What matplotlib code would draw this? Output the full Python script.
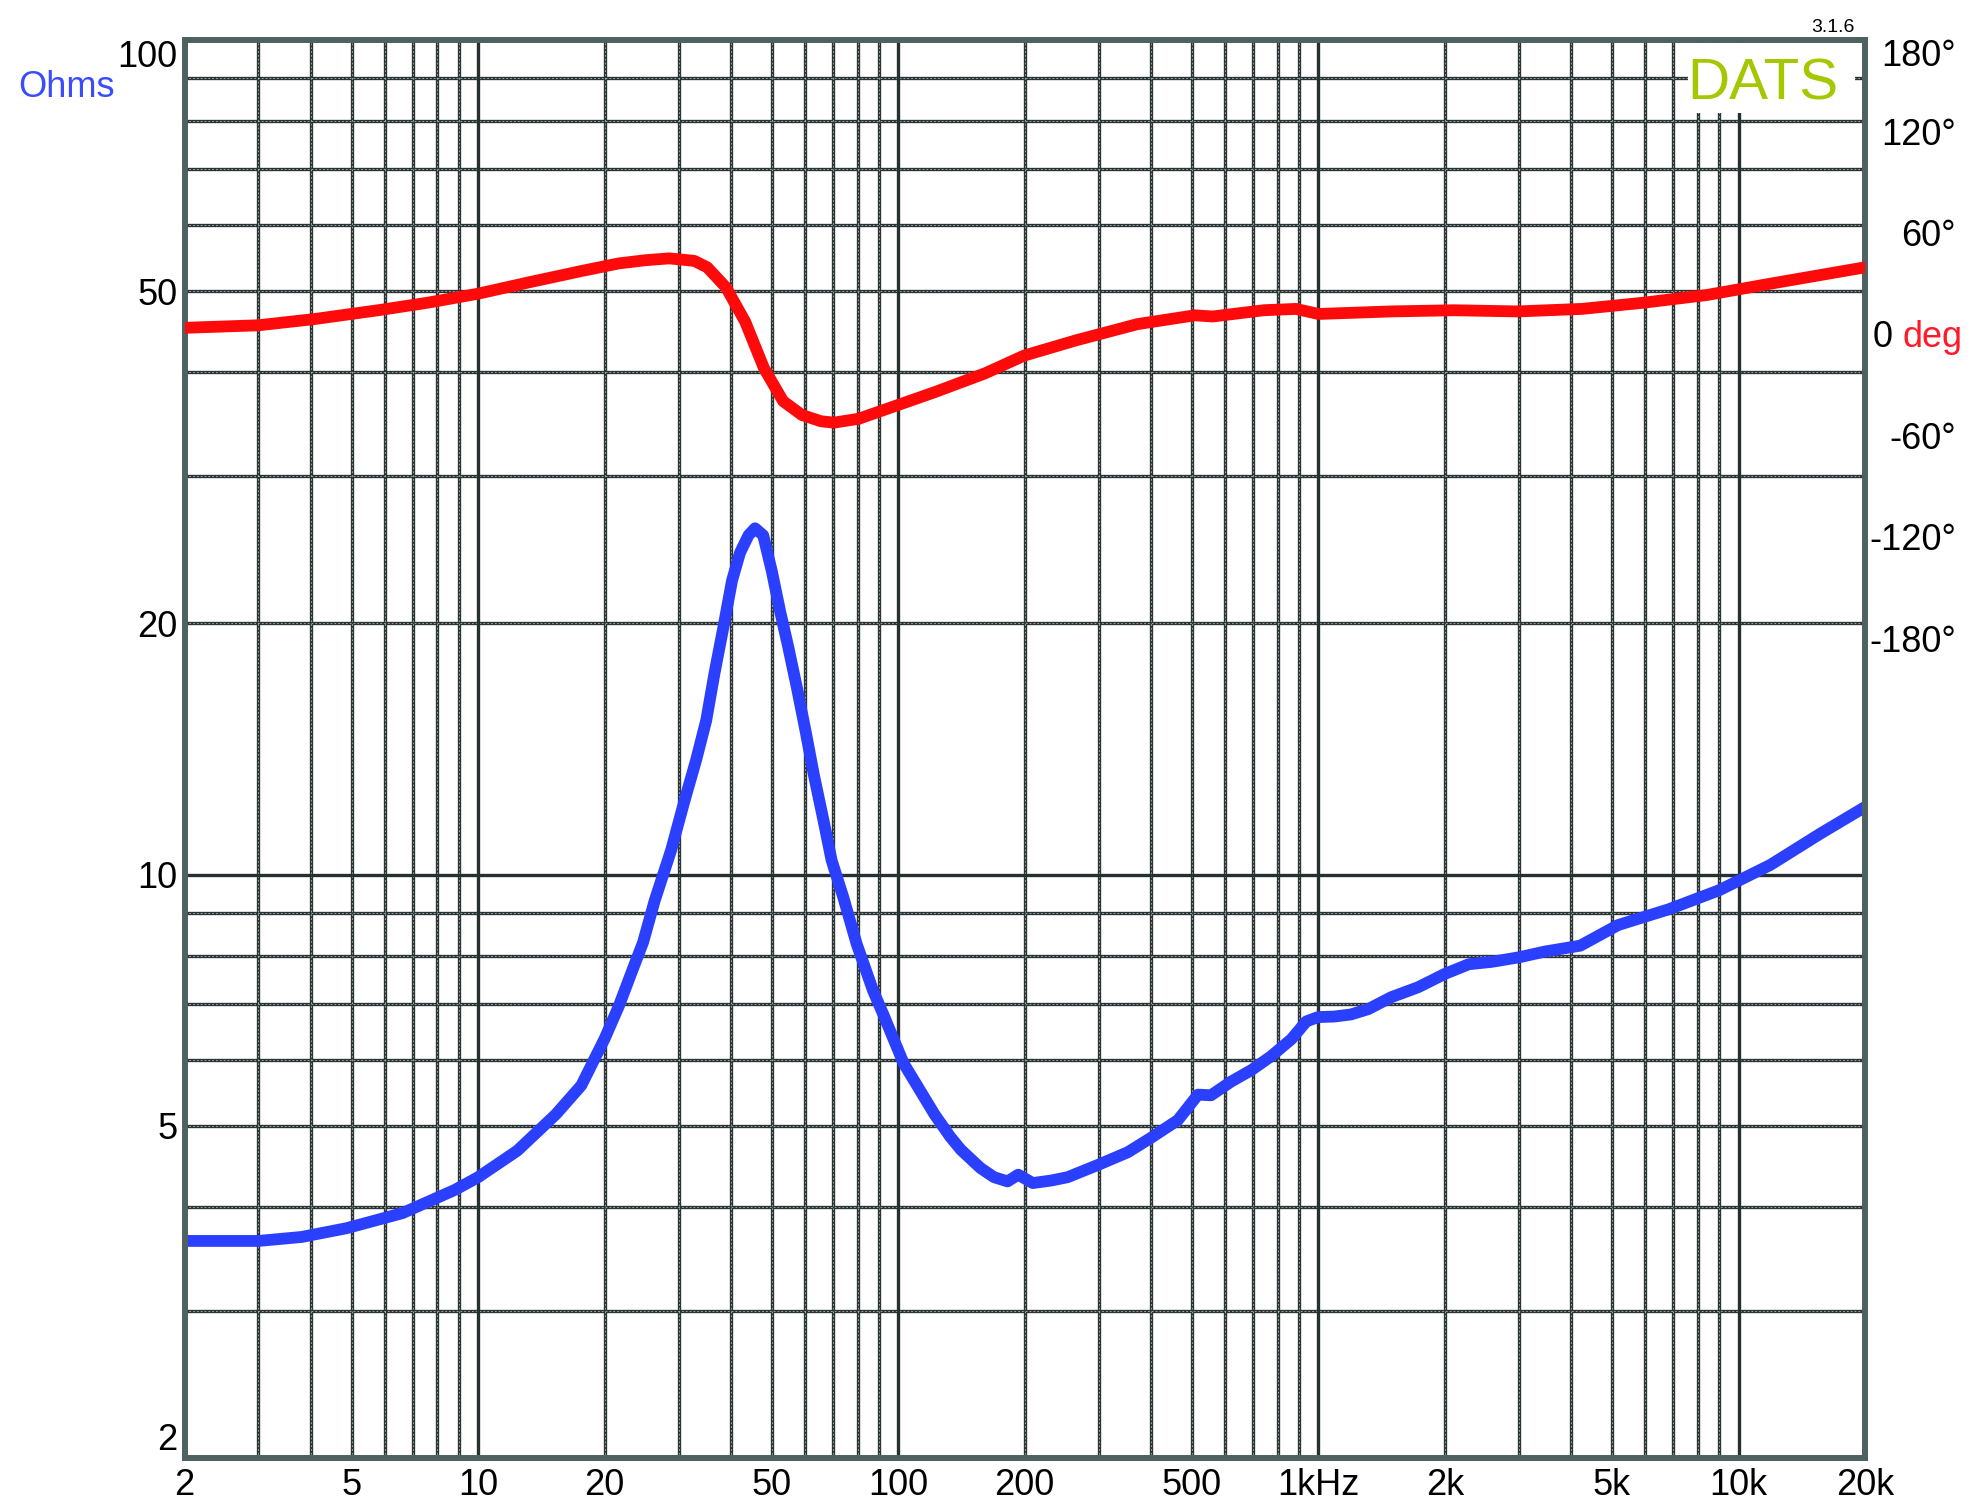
import matplotlib
matplotlib.use("Agg")
import matplotlib.pyplot as plt
import matplotlib.transforms as mtransforms
from matplotlib.patches import Rectangle

# ---------------- data ----------------
imp_freq = [2, 3, 3.8, 4.86, 6.6, 8.8, 10, 12.4, 15.3, 17.6, 20, 21.6, 23.1, 24.7, 26.3,
            28.8, 30.9, 33.0, 34.9, 36.5, 38.5, 40.2, 42.0, 44.0, 45.6, 47.7, 50, 52.3,
            54.7, 57.3, 60.1, 62.9, 66.4, 69.4, 74.0, 79.6, 87.1, 92, 103, 122,
            133, 141, 157, 169, 182, 193, 209, 231, 253, 299, 352, 400, 463, 517,
            555, 620, 692, 772, 862, 936, 998, 1090, 1196, 1314, 1490, 1728, 1995,
            2280, 2580, 3000, 3470, 4200, 5165, 6830, 9000, 11900, 15670, 20000]
imp_ohms = [3.64, 3.64, 3.68, 3.77, 3.93, 4.19, 4.34, 4.67, 5.16, 5.59, 6.36, 6.95, 7.6, 8.3, 9.3,
            10.7, 12.2, 13.7, 15.3, 17.4, 20.0, 22.5, 24.3, 25.5, 26.0, 25.5, 23.1, 20.7,
            18.75, 16.8, 14.9, 13.2, 11.6, 10.4, 9.39, 8.26, 7.26, 6.81, 5.94, 5.16,
            4.85, 4.68, 4.45, 4.34, 4.29, 4.37, 4.27, 4.30, 4.34, 4.49, 4.65, 4.84, 5.08, 5.45,
            5.44, 5.65, 5.83, 6.06, 6.35, 6.67, 6.75, 6.76, 6.80, 6.90, 7.13, 7.33, 7.60,
            7.81, 7.86, 7.96, 8.09, 8.22, 8.70, 9.09, 9.58, 10.27, 11.2, 12.05]

ph_freq = [2, 3.0, 4.08, 5.78, 7.6, 10, 13.2, 17.6, 21.6, 25, 28.5, 32.7, 35.1, 38.9, 43.2,
           47.9, 53.2, 59, 65.5, 70.3, 80.5, 92.4, 122, 161, 199, 264, 371, 508, 560, 741,
           884, 1000, 1490, 2100, 2980, 4240, 5960, 8400, 11900, 20000]
ph_deg = [6.0, 7.5, 11.2, 16.4, 20.9, 26.2, 32.9, 39.6, 44.1, 46.0, 47.1, 45.6, 41.8, 29.9, 9.7,
          -17.9, -37.4, -45.6, -49.3, -50.1, -47.8, -42.6, -32.1, -20.9, -10.5, -1.5, 8.2, 13.4, 12.7, 16.4,
          17.2, 14.2, 15.7, 16.4, 15.7, 17.2, 20.9, 25.4, 32.1, 41.8]

x_ticks = [2, 5, 10, 20, 50, 100, 200, 500, 1000, 2000, 5000, 10000, 20000]
x_labels = ["2", "5", "10", "20", "50", "100", "200", "500", "1kHz", "2k", "5k", "10k", "20k"]
y_ticks = [2, 5, 10, 20, 50, 100]
y_labels = ["2", "5", "10", "20", "50", "100"]
ph_ticks = [120, 60, 0, -60, -120, -180]
ph_labels = ["120°", "60°", "0", "-60°", "-120°", "-180°"]

# ---------------- style ----------------
FONT = ["Liberation Sans", "DejaVu Sans"]
plt.rcParams["font.family"] = FONT
BLUE = "#2b3fff"
RED = "#ff0a0a"
SPINE = "#4f6262"
GRID = "#2c3535"

W, H = 1980, 1512
fig = plt.figure(figsize=(W / 100, H / 100), dpi=100)
L, R, T, B = 184.5, 1865, 40, 1458
ax = fig.add_axes([L / W, 1 - B / H, (R - L) / W, (B - T) / H])
ax.set_xscale("log")
ax.set_yscale("log")
ax.set_xlim(2, 20000)
ax.set_ylim(2, 100)

# grid lines
major_x = [10, 100, 1000, 10000]
minor_x = [m * 10 ** e for e in range(0, 4) for m in range(2, 10)]
minor_x = [v for v in minor_x if 2 < v < 20000 and v not in major_x]
minor_y = [3, 4, 5, 6, 7, 8, 9, 20, 30, 40, 50, 60, 70, 80, 90]
major_y = [10]
for v in minor_x:
    ax.axvline(v, color=GRID, lw=2.4, zorder=1)
    ax.axvline(v, color="#c9cfcf", lw=0.5, ls=(0, (2.5, 3)), zorder=1.1)
for v in minor_y:
    ax.axhline(v, color=GRID, lw=2.4, zorder=1)
    ax.axhline(v, color="#c9cfcf", lw=0.5, ls=(0, (2.5, 3)), zorder=1.1)
for v in major_x:
    ax.axvline(v, color="#263030", lw=2.4, zorder=1.2)
for v in major_y:
    ax.axhline(v, color="#263030", lw=2.4, zorder=1.2)

# white box for logo
ax.add_patch(Rectangle((1688 / W, 1 - 113 / H), (1855 - 1688) / W, (113 - 43) / H,
                       transform=fig.transFigure, facecolor="white", edgecolor="none",
                       zorder=2.2, clip_on=False))

# impedance
ax.plot(imp_freq, imp_ohms, color=BLUE, lw=8.5, solid_capstyle="round",
        solid_joinstyle="round", zorder=4)

# phase axis
ax2 = ax.twinx()
ax2.set_xscale("log")
ax2.set_xlim(2, 20000)
ax2.set_ylim(-662.7, 176.3)
ax2.plot(ph_freq, ph_deg, color=RED, lw=8.5, solid_capstyle="round",
         solid_joinstyle="round", zorder=4)
ax2.set_yticks([])
for s in ax2.spines.values():
    s.set_visible(False)

for s in ax.spines.values():
    s.set_color(SPINE)
    s.set_linewidth(4.3)
    s.set_zorder(5)

ax.set_xticks(x_ticks)
ax.set_xticklabels(x_labels)
ax.xaxis.set_minor_locator(matplotlib.ticker.NullLocator())
ax.yaxis.set_minor_locator(matplotlib.ticker.NullLocator())
ax.set_yticks(y_ticks)
ax.set_yticklabels(y_labels)
ax.tick_params(axis="both", length=0, labelsize=26, colors="black")
ax.tick_params(axis="x", pad=7)
ax.tick_params(axis="y", pad=5)
ylabs = ax.get_yticklabels()
ylabs[0].set_verticalalignment("bottom")
ylabs[-1].set_verticalalignment("top")

# phase labels
trans = mtransforms.blended_transform_factory(fig.transFigure, ax2.transData)
for v, lab in zip(ph_ticks, ph_labels):
    if lab == "0":
        ax2.text(1873 / W, v, "0", transform=trans, ha="left", va="center",
                 fontsize=26, color="black", clip_on=False)
        ax2.text(1903 / W, v, "deg", transform=trans, ha="left", va="center",
                 fontsize=26, color="#ff1a2a", clip_on=False)
    else:
        ax2.text(1956 / W, v, lab, transform=trans, ha="right", va="center",
                 fontsize=26, color="black", clip_on=False)
fig.text(1956 / W, 1 - 56 / H, "180°", ha="right", va="center", fontsize=26, color="black")

fig.text(18 / W, 1 - 97 / H, "Ohms", ha="left", va="baseline", fontsize=26, color="#3b4cff")
fig.text(1763 / W, 1 - 100 / H, "DATS", ha="center", va="baseline", fontsize=42,
         color="#a3c800", zorder=6)
fig.text(1855 / W, 1 - 32 / H, "3.1.6", ha="right", va="baseline", fontsize=14,
         color="black")

fig.savefig("out.png", dpi=100)
